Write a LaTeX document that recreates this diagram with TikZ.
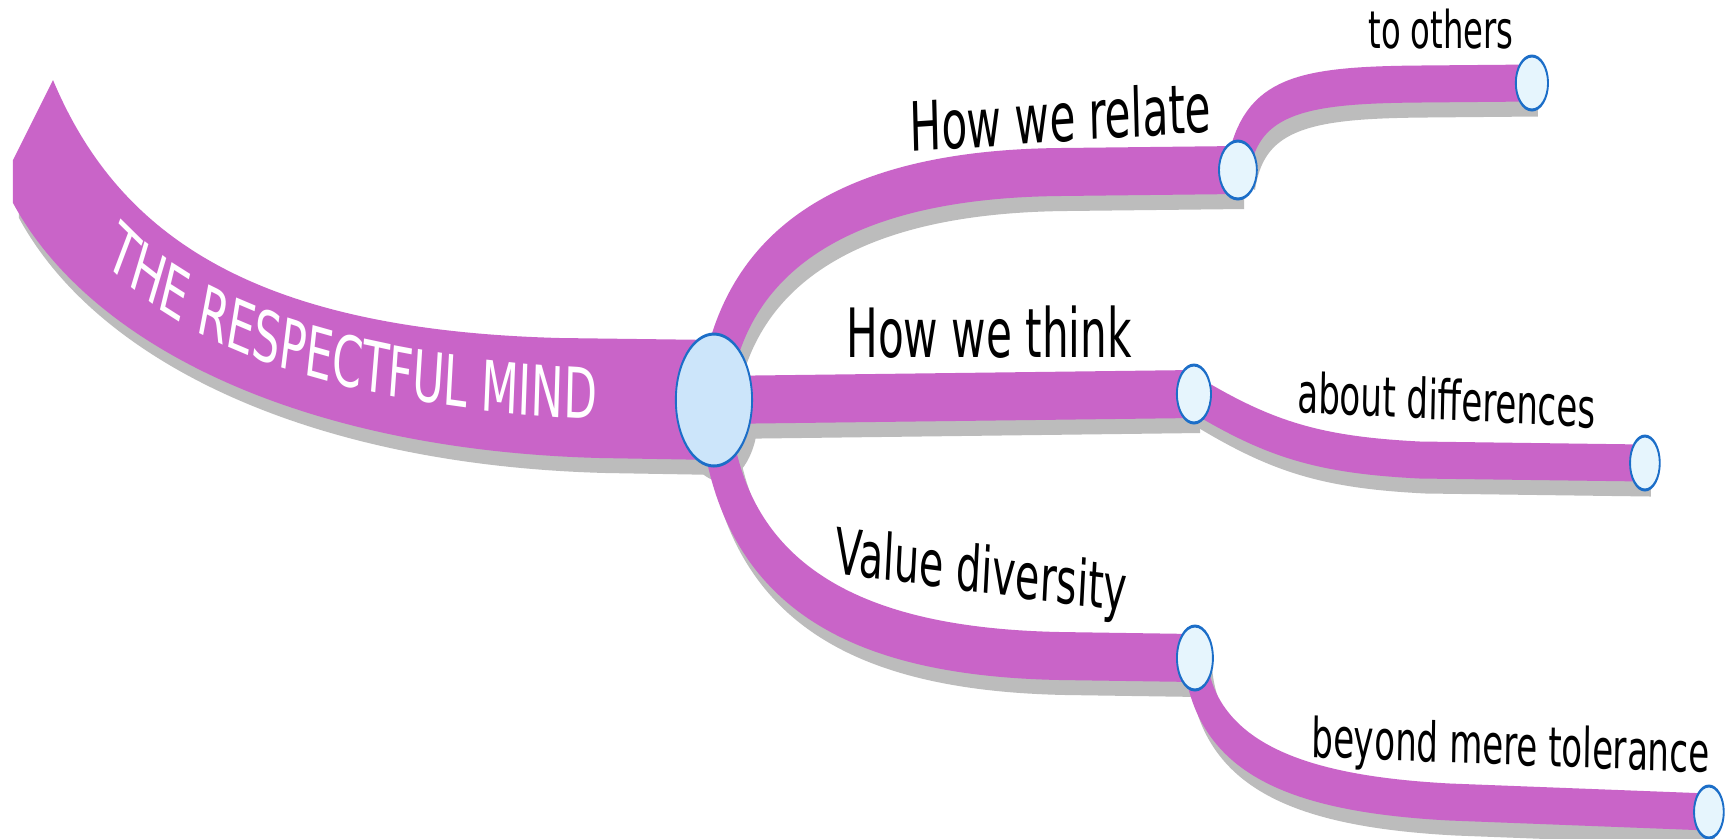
\documentclass[tikz,border=0pt]{standalone}
\usepackage{fontspec}
\setmainfont{DejaVu Sans}
\usetikzlibrary{shapes.geometric}
\usetikzlibrary{decorations.text}

\definecolor{mindpink}{RGB}{201,100,200}
\definecolor{bandshadow}{RGB}{188,188,188}
\definecolor{knotblue}{RGB}{28,110,200}
\definecolor{hubfill}{RGB}{204,229,250}
\definecolor{knotfill}{RGB}{230,245,253}

\pgfdeclarelayer{background}
\pgfsetlayers{background,main}

\tikzset{
  squeeze/.style={transform canvas={xscale=0.62}, x=0.16129mm},
  knot/.style={ellipse, draw=knotblue, line width=0.3mm, fill=knotfill, inner sep=0pt},
  bigtext/.style={anchor=base west, inner sep=0pt, font=\fontsize{19.35}{23}\selectfont},
  smalltext/.style={anchor=base west, inner sep=0pt, font=\fontsize{15.65}{19}\selectfont},
  branch/.style={line width=4.8mm},
  twig/.style={line width=3.7mm},
}

% banner and branches, drawn once as shadow and once in pink
\newcommand{\mindpaths}{%
  \fill (53,80) .. controls (120,240) and (260,330) .. (560,338) -- (716,340)
    -- (716,460) -- (600,458) .. controls (300,450) and (90,345) .. (13,203)
    -- (13,160) -- cycle;
  \fill (hub.center) ellipse [x radius=6.15mm, y radius=6.6mm];
  \draw[branch] (hub.center) .. controls (730,240) and (860,174) .. (1060,172) -- (relate.center);
  \draw[branch] (hub.center) -- (think.center);
  \draw[branch] (hub.center) .. controls (725,590) and (860,652) .. (1060,656) -- (value.center);
  \draw[twig] (relate.center) .. controls (1250,95) and (1300,85) .. (1420,84) -- (others.center);
  \draw[twig] (think.center) .. controls (1270,440) and (1320,455) .. (1420,460) -- (differences.center);
  \draw[twig] (value.center) .. controls (1205,760) and (1300,794) .. (1450,802) -- (tolerance.center);
}

\begin{document}
\begin{tikzpicture}[x=0.1mm,y=-0.1mm]
  \useasboundingbox (0,0) rectangle (1733,838);

  \begin{scope}[squeeze]
    \node[knot, fill=hubfill, minimum width=12.3mm, minimum height=13.2mm] (hub) at (714,400) {};
    \node[knot, minimum width=6.1mm, minimum height=5.8mm] (relate) at (1238,170) {};
    \node[knot, minimum width=5.5mm, minimum height=5.8mm] (think) at (1194,394) {};
    \node[knot, minimum width=5.8mm, minimum height=6.4mm] (value) at (1195,658) {};
    \node[knot, minimum width=5.2mm, minimum height=5.4mm] (others) at (1532,83) {};
    \node[knot, minimum width=4.8mm, minimum height=5.4mm] (differences) at (1645,463) {};
    \node[knot, minimum width=4.8mm, minimum height=5.2mm] (tolerance) at (1709,812) {};

    \node[bigtext, rotate=2.4] (relate-text) at (910,152) {How we relate};
    \node[bigtext] (think-text) at (846,357) {How we think};
    \node[bigtext, font=\fontsize{18.2}{22}\selectfont, rotate=-4.7] (value-text) at (834,573) {Value diversity};
    \node[smalltext, font=\fontsize{14.8}{18}\selectfont] (others-text) at (1368,48) {to others};
    \node[smalltext, rotate=-1.9] (differences-text) at (1297,412) {about differences};
    \node[smalltext, rotate=-1.4] (tolerance-text) at (1311,757) {beyond mere tolerance};

    \path[decorate, decoration={text along path, text align=left, text color=white,
        text={|\fontsize{19.9}{24}\selectfont|THE RESPECTFUL MIND}}]
      (105,262) .. controls (175,340) and (330,415) .. (660,422);
  \end{scope}

  \begin{pgfonlayer}{background}
    \fill[white] (0,0) rectangle (1733,838);
    \begin{scope}[squeeze]
      \begin{scope}[transform canvas={shift={(6,15)}}, bandshadow]
        \mindpaths
      \end{scope}
      \begin{scope}[mindpink]
        \mindpaths
      \end{scope}
    \end{scope}
  \end{pgfonlayer}
\end{tikzpicture}
\end{document}
